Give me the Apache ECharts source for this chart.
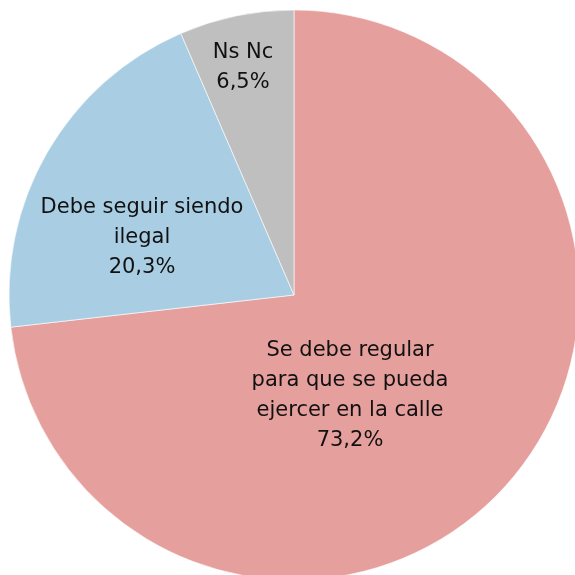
<!DOCTYPE html>
<html>
<head>
<meta charset="utf-8">
<script src="https://cdn.jsdelivr.net/npm/echarts@6/dist/echarts.min.js"></script>
<style>
  html, body { margin: 0; padding: 0; background: #fff; }
  #chart { width: 575px; height: 575px; }
</style>
</head>
<body>
<div id="chart"></div>
<script>
// datos
var categories = ['Se debe regular\npara que se pueda\nejercer en la calle', 'Debe seguir siendo\nilegal', 'Ns Nc'];
var values = [73.2, 20.3, 6.5];
var colors = ['#E59F9C', '#A9CEE4', '#BFBFBF'];
// posicion de etiquetas (centro del texto)
var labelPos = [[350, 396], [142, 238], [243, 68]];

var chart = echarts.init(document.getElementById('chart'));

var data = [];
for (var i = 0; i < values.length; i++) {
    data.push({ name: categories[i], value: values[i], itemStyle: { color: colors[i] } });
}

var option = {
    backgroundColor: '#fff',
    animation: false,
    series: [
        {
            type: 'pie',
            center: [294, 295],
            radius: [0, 285],
            startAngle: 90,
            clockwise: true,
            itemStyle: { borderColor: '#fff', borderWidth: 0.6 },
            label: {
                show: true,
                position: 'inside',
                fontFamily: 'DejaVu Sans',
                fontSize: 21,
                lineHeight: 30,
                color: '#111',
                align: 'center',
                verticalAlign: 'middle',
                formatter: function (p) {
                    return p.name + '\n' + p.value.toFixed(1).replace('.', ',') + '%';
                }
            },
            labelLine: { show: false },
            labelLayout: function (params) {
                var pos = labelPos[params.dataIndex];
                return { x: pos[0], y: pos[1], align: 'center', verticalAlign: 'middle' };
            },
            data: data
        }
    ]
};
chart.setOption(option);
</script>
</body>
</html>
